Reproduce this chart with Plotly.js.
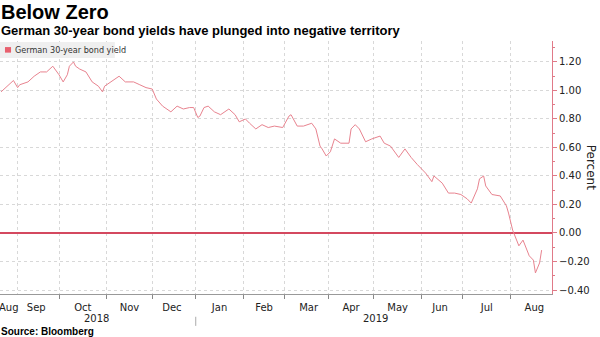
<!DOCTYPE html>
<html>
<head>
<meta charset="utf-8">
<script src="https://cdn.plot.ly/plotly-3.0.1.min.js"></script>
<style>html,body{margin:0;padding:0;background:#fff}#chart{width:600px;height:337px}</style>
</head>
<body>
<div id="chart"></div>
<script>
const dates = [
"2018-08-22","2018-08-30","2018-09-03","2018-09-04","2018-09-10","2018-09-13","2018-09-18","2018-09-21","2018-09-26","2018-09-28",
"2018-10-01","2018-10-03","2018-10-05","2018-10-08","2018-10-10","2018-10-11","2018-10-15","2018-10-18","2018-10-23","2018-10-26","2018-10-30","2018-10-31",
"2018-11-05","2018-11-09","2018-11-14","2018-11-20","2018-11-23","2018-11-28",
"2018-12-03","2018-12-05","2018-12-10","2018-12-14","2018-12-19","2018-12-24","2018-12-27","2018-12-31",
"2019-01-02","2019-01-03","2019-01-07","2019-01-09","2019-01-14","2019-01-17","2019-01-23","2019-01-28","2019-01-30",
"2019-02-04","2019-02-06","2019-02-11","2019-02-14","2019-02-19","2019-02-22","2019-02-28",
"2019-03-05","2019-03-06","2019-03-11","2019-03-14","2019-03-20","2019-03-22","2019-03-26","2019-03-27","2019-03-29",
"2019-04-02","2019-04-04","2019-04-09","2019-04-15","2019-04-16","2019-04-18","2019-04-22","2019-04-25","2019-04-30",
"2019-05-06","2019-05-08","2019-05-13","2019-05-17","2019-05-22","2019-05-27","2019-05-30",
"2019-06-05","2019-06-10","2019-06-11","2019-06-17","2019-06-20","2019-06-25","2019-06-28",
"2019-07-03","2019-07-05","2019-07-10","2019-07-11","2019-07-15","2019-07-16","2019-07-19","2019-07-25","2019-07-30","2019-07-31",
"2019-08-02","2019-08-05","2019-08-07","2019-08-09","2019-08-12","2019-08-14","2019-08-16","2019-08-19","2019-08-21","2019-08-22"
];
const yields = [
0.99,1.07,1.02,1.04,1.06,1.10,1.13,1.13,1.17,1.13,
1.11,1.06,1.11,1.17,1.20,1.17,1.15,1.13,1.06,1.03,0.99,1.03,
1.06,1.10,1.06,1.06,1.04,1.02,
1.01,0.94,0.89,0.85,0.89,0.87,0.88,0.88,
0.81,0.82,0.88,0.89,0.85,0.83,0.87,0.83,0.78,
0.80,0.77,0.73,0.76,0.74,0.75,0.74,
0.82,0.83,0.75,0.75,0.77,0.73,0.61,0.59,0.54,
0.57,0.66,0.63,0.63,0.73,0.76,0.73,0.64,0.66,
0.68,0.63,0.61,0.53,0.59,0.53,0.48,
0.42,0.36,0.40,0.35,0.28,0.28,0.27,
0.24,0.21,0.31,0.38,0.40,0.33,0.27,0.26,0.19,0.14,
0.02,-0.02,-0.09,-0.05,-0.09,-0.16,-0.19,-0.28,-0.21,-0.12
];
const seriesName = "German 30-year bond yield";
const firstMonthLabel = "Aug";
const firstMonthCenter = "2018-08-28";
const yearLabels = ["2018", "2019"];
const yearCenters = ["2018-10-25", "2019-05-02"];
const yearBoundary = "2019-01-01";

const axisRed = "#e07a88";
const trace = {
  x: dates, y: yields, type: "scatter", mode: "lines",
  line: {color: "#e8838f", width: 1}, name: seriesName, showlegend: false
};

const layout = {
  width: 600, height: 337,
  margin: {l: 0, r: 48, t: 41, b: 43},
  paper_bgcolor: "#fff", plot_bgcolor: "#fff",
  font: {family: "DejaVu Sans", size: 10, color: "#222"},
  xaxis: {
    type: "date",
    range: ["2018-08-21 12:00", "2019-08-29"],
    rangebreaks: [{bounds: ["sat", "mon"]}],
    tick0: "2018-09-01", dtick: "M1", tickformat: "%b", ticklabelmode: "period",
    ticks: "outside", ticklen: 4, tickcolor: "#888",
    showline: true, linecolor: "#999", linewidth: 1,
    showgrid: true, gridcolor: "#d8d8d8", griddash: "dot",
    tickfont: {size: 10, color: "#222"}, fixedrange: true
  },
  yaxis: {
    side: "right",
    range: [-0.428, 1.347],
    dtick: 0.2, tick0: 0, tickformat: ".2f",
    ticks: "outside", ticklen: 4, tickcolor: axisRed,
    showline: true, linecolor: axisRed, linewidth: 1,
    showgrid: true, gridcolor: "#d8d8d8", griddash: "dot",
    zeroline: true, zerolinecolor: "#d4485f", zerolinewidth: 1.5,
    minor: {dtick: 0.1, ticks: "outside", ticklen: 2, tickcolor: axisRed, showgrid: false},
    tickfont: {size: 10, color: "#222"}, fixedrange: true
  },
  shapes: [
    {type: "rect", xref: "paper", yref: "paper", x0: 0, x1: 0.208, y0: 0.933, y1: 0.996,
     fillcolor: "#efefef", line: {width: 0}, layer: "above"},
    {type: "rect", xref: "paper", yref: "paper", x0: 0.009, x1: 0.02, y0: 0.954, y1: 0.976,
     fillcolor: "#e8606e", line: {width: 0}, layer: "above"},
    {type: "line", xref: "x", yref: "paper", x0: yearBoundary, x1: yearBoundary, y0: -0.09, y1: -0.126,
     line: {color: "#aaa", width: 1}}
  ],
  annotations: [
    {xref: "paper", yref: "paper", x: 0.023, y: 0.965, xanchor: "left", yanchor: "middle",
     text: seriesName, showarrow: false, font: {family: "DejaVu Sans Condensed", size: 9, color: "#333"}},
    {xref: "paper", yref: "paper", x: 1.072, y: 0.5, xanchor: "center", yanchor: "middle",
     text: "Percent", textangle: 90, showarrow: false, font: {family: "DejaVu Sans", size: 12, color: "#222"}},
    {xref: "x", yref: "paper", x: firstMonthCenter, y: -0.052, xanchor: "center", yanchor: "middle",
     text: firstMonthLabel, showarrow: false, font: {size: 10, color: "#222"}},
    {xref: "x", yref: "paper", x: yearCenters[0], y: -0.095, xanchor: "center", yanchor: "middle",
     text: yearLabels[0], showarrow: false, font: {size: 10, color: "#222"}},
    {xref: "x", yref: "paper", x: yearCenters[1], y: -0.095, xanchor: "center", yanchor: "middle",
     text: yearLabels[1], showarrow: false, font: {size: 10, color: "#222"}},
    {xref: "paper", yref: "paper", x: -0.001, y: 1.115, xanchor: "left", yanchor: "middle",
     text: "<b>Below Zero</b>", showarrow: false, font: {family: "Liberation Sans", size: 20, color: "#000"}},
    {xref: "paper", yref: "paper", x: -0.001, y: 1.043, xanchor: "left", yanchor: "middle",
     text: "<b>German 30-year bond yields have plunged into negative territory</b>", showarrow: false,
     font: {family: "Liberation Sans", size: 13, color: "#000"}},
    {xref: "paper", yref: "paper", x: -0.001, y: -0.15, xanchor: "left", yanchor: "middle",
     text: "<b>Source: Bloomberg</b>", showarrow: false, font: {family: "Liberation Sans", size: 10, color: "#000"}}
  ]
};

Plotly.newPlot("chart", [trace], layout, {displayModeBar: false, staticPlot: true});
</script>
</body>
</html>
